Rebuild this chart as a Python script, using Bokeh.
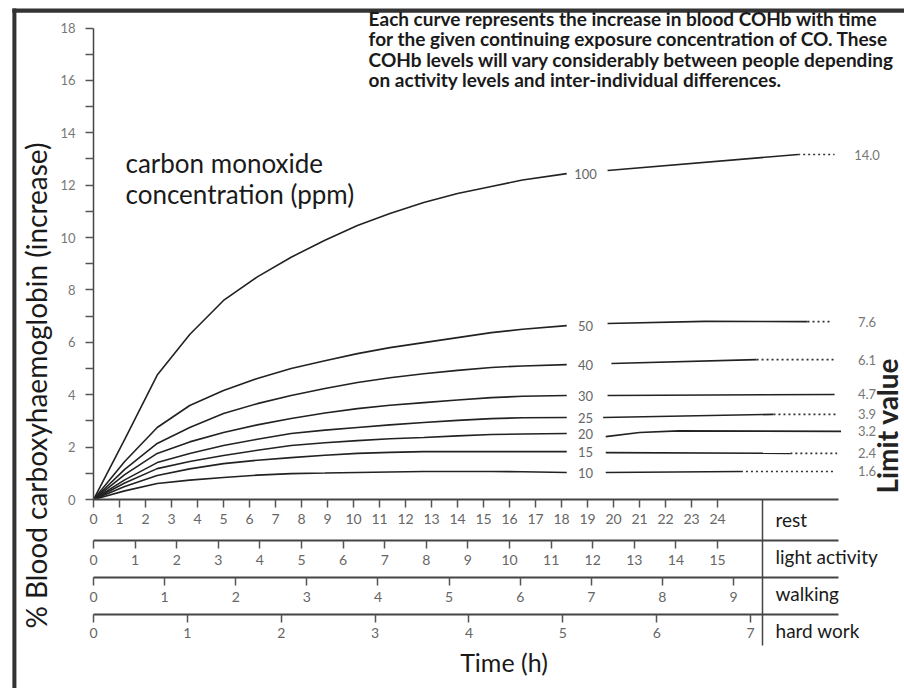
from bokeh.plotting import figure
from bokeh.models import Range1d, LinearAxis, FixedTicker, Label, ColumnDataSource, BoxAnnotation
from bokeh.core.properties import value
from bokeh.embed import file_html
from bokeh.resources import INLINE

FONT = "Lato"

# ---------------- data ----------------
# time in hours at rest
times = [0, 1.2, 2.45, 3.7, 5.0, 6.3, 7.6, 8.9, 10.15, 11.4, 12.7, 14.0, 15.3, 16.5, 18.2]
ppm = ["100", "50", "40", "30", "25", "20", "15", "10"]
coh_100 = [0, 2.3, 4.75, 6.3, 7.6, 8.5, 9.25, 9.9, 10.46, 10.92, 11.34, 11.68, 11.95, 12.2, 12.44]
coh_50 = [0, 1.45, 2.75, 3.59, 4.16, 4.62, 5.0, 5.3, 5.57, 5.8, 5.99, 6.18, 6.37, 6.5, 6.64]
coh_40 = [0, 1.15, 2.14, 2.75, 3.28, 3.66, 3.97, 4.24, 4.47, 4.65, 4.8, 4.93, 5.04, 5.1, 5.15]
coh_30 = [0, 0.95, 1.76, 2.2, 2.56, 2.85, 3.09, 3.3, 3.47, 3.6, 3.7, 3.8, 3.89, 3.94, 3.97]
coh_25 = [0, 0.75, 1.41, 1.76, 2.06, 2.3, 2.52, 2.65, 2.75, 2.85, 2.94, 3.02, 3.09, 3.12, 3.13]
coh_20 = [0, 0.63, 1.18, 1.45, 1.68, 1.88, 2.06, 2.17, 2.25, 2.32, 2.37, 2.43, 2.48, 2.5, 2.52]
coh_15 = [0, 0.5, 0.92, 1.17, 1.37, 1.5, 1.6, 1.69, 1.76, 1.8, 1.83, 1.83, 1.83, 1.83, 1.83]
coh_10 = [0, 0.33, 0.61, 0.74, 0.84, 0.93, 0.99, 1.01, 1.03, 1.05, 1.07, 1.07, 1.07, 1.06, 1.03]
curves = [coh_100, coh_50, coh_40, coh_30, coh_25, coh_20, coh_15, coh_10]

# continuation towards the limit (right-hand part)
tail_x = [[19.77, 27.1], [19.77, 23.5, 27.46], [19.92, 25.5], [19.77, 28.5],
          [19.6, 26.15], [19.7, 21.0, 22.5, 28.75], [19.7, 26.8], [19.7, 24.9]]
tail_y = [[12.56, 13.17], [6.72, 6.8, 6.79], [5.19, 5.34], [3.97, 4.01],
          [3.13, 3.25], [2.40, 2.56, 2.62, 2.60], [1.79, 1.76], [1.03, 1.07]]
dot_end = [28.5, 28.35, 28.5, None, 28.6, None, 28.6, 28.46]
limit_labels = ["14.0", "7.6", "6.1", "4.7", "3.9", "3.2", "2.4", "1.6"]

# time scales for each activity (hours), and rest-hours per hour of activity
activities = ["rest", "light activity", "walking", "hard work"]
activity_factor = [1.0, 1.6, 2.735, 3.61]
activity_ticks = [list(range(0, 25)), list(range(0, 16)), list(range(0, 10)), list(range(0, 8))]

y_major = list(range(0, 19, 2))
y_minor = list(range(1, 18, 2))

# ---------------- layout constants (data units) ----------------
X_START, X_END = -3.577, 31.19
Y_START, Y_END = -7.214, 19.05
row_axis_y = [0.0, -1.565, -2.977, -4.389]     # where each time scale sits
row_text_y = [-0.76, -2.18, -3.59, -5.0]
SCALE_END = 28.65                               # right end of the time scale lines
SEP_X = 25.73                                   # separator between scales and names

p = figure(width=904, height=688, output_backend="svg", toolbar_location=None,
           x_range=Range1d(X_START, X_END), y_range=Range1d(Y_START, Y_END),
           min_border_left=0, min_border_right=0, min_border_top=0, min_border_bottom=0,
           x_axis_location=None, y_axis_location=None)
p.grid.visible = False
p.outline_line_color = None
p.background_fill_color = "white"
p.border_fill_color = "white"

# page frame (thick dark edges on the left and top)
p.add_layout(BoxAnnotation(left=-3.12, right=-2.965, top=18.74, bottom=Y_START,
                           fill_color="#333333", fill_alpha=1.0, line_color=None))
p.add_layout(BoxAnnotation(left=-3.12, right=X_END, top=18.74, bottom=18.585,
                           fill_color="#333333", fill_alpha=1.0, line_color=None))

# separator between the time scales and their names (an axis used only for its line)
sep = LinearAxis(ticker=FixedTicker(ticks=[], minor_ticks=[]), fixed_location=SEP_X,
                 bounds=(-5.57, 0))
sep.axis_line_width = 1.5
sep.axis_line_color = "#444444"
sep.major_tick_out = 0
sep.minor_tick_out = 0
sep.major_label_text_font_size = "0px"
p.add_layout(sep, "left")

# y axis (fixed at t = 0)
yax = LinearAxis(ticker=FixedTicker(ticks=y_major, minor_ticks=y_minor), bounds=(0, 18),
                 fixed_location=0)
yax.axis_line_color = "#444444"
yax.axis_line_width = 1.5
yax.major_tick_out = 8
yax.major_tick_in = 0
yax.minor_tick_out = 8
yax.minor_tick_in = 0
yax.major_tick_line_color = "#555555"
yax.minor_tick_line_color = "#555555"
yax.major_tick_line_width = 1.5
yax.minor_tick_line_width = 1.5
yax.major_label_text_font = FONT
yax.major_label_text_font_size = "13px"
yax.major_label_text_color = "#777777"
yax.major_label_standoff = 10
p.add_layout(yax, "left")

# stacked time scales
for i, (name, f, ticks, ay) in enumerate(zip(activities, activity_factor, activity_ticks, row_axis_y)):
    rname = "t%d" % i
    p.extra_x_ranges[rname] = Range1d(X_START / f, X_END / f)
    ax = LinearAxis(x_range_name=rname, ticker=FixedTicker(ticks=ticks, minor_ticks=[]),
                    bounds=(0, SCALE_END / f), fixed_location=ay)
    ax.axis_line_color = "#444444"
    ax.axis_line_width = 2
    ax.major_tick_out = 8
    ax.major_tick_in = 0
    ax.major_tick_line_color = "#555555"
    ax.major_tick_line_width = 1.5
    ax.major_label_text_font = FONT
    ax.major_label_text_font_size = "14px"
    ax.major_label_text_color = "#666666"
    ax.major_label_standoff = 6
    p.add_layout(ax, "below")

# curves
for ys in curves:
    p.line(times, ys, line_color="#222222", line_width=1.6)

for xs, ys, de in zip(tail_x, tail_y, dot_end):
    p.line(xs, ys, line_color="#222222", line_width=1.6)
    if de is not None:
        p.line([xs[-1], de], [ys[-1], ys[-1]], line_color="#333333", line_width=1.6,
               line_dash="2 3")

# concentration labels on the curves
lab_src = ColumnDataSource(dict(x=[18.92] * len(ppm), y=[c[-1] for c in curves], t=ppm))
p.text(x="x", y="y", text="t", source=lab_src, text_font=value(FONT), text_font_size="13px",
       text_color="#666666", text_align="center", text_baseline="middle")

lim_src = ColumnDataSource(dict(x=[29.75] * len(limit_labels), y=[ys[-1] for ys in tail_y],
                                t=limit_labels))
p.text(x="x", y="y", text="t", source=lim_src, text_font=value(FONT), text_font_size="13px",
       text_color="#777777", text_align="center", text_baseline="middle")

# annotations
p.add_layout(Label(x=10.58, y=18.8, text="Each curve represents the increase in blood COHb with time\n"
                   "for the given continuing exposure concentration of CO. These\n"
                   " COHb levels will vary considerably between people depending\n"
                   "on activity levels and inter-individual differences.",
                   text_font=FONT, text_font_size="19px", text_font_style="bold",
                   text_color="#1a1a1a", text_baseline="top", text_line_height=0.88))
p.add_layout(Label(x=1.23, y=13.45, text="carbon  monoxide\nconcentration  (ppm)",
                   text_font=FONT, text_font_size="26px", text_color="#1a1a1a",
                   text_baseline="top", text_line_height=0.95))
p.add_layout(Label(x=-2.23, y=4.35, text="% Blood carboxyhaemoglobin (increase)", angle=1.5708,
                   text_font=FONT, text_font_size="28px", text_color="#1a1a1a",
                   text_align="center", text_baseline="middle"))
p.add_layout(Label(x=30.5, y=2.82, text="Limit value", angle=1.5708, text_font=FONT,
                   text_font_size="28px", text_font_style="bold", text_color="#222222",
                   text_align="center", text_baseline="middle"))

for name, ry in zip(activities, row_text_y):
    p.add_layout(Label(x=26.23, y=ry, text=name, text_font=FONT, text_font_size="19px",
                       text_color="#1a1a1a", text_baseline="middle"))
p.add_layout(Label(x=14.1, y=-6.22, text="Time (h)", text_font=FONT, text_font_size="25px",
                   text_color="#1a1a1a", text_baseline="middle"))

open("out.html", "w").write(file_html(p, INLINE))
